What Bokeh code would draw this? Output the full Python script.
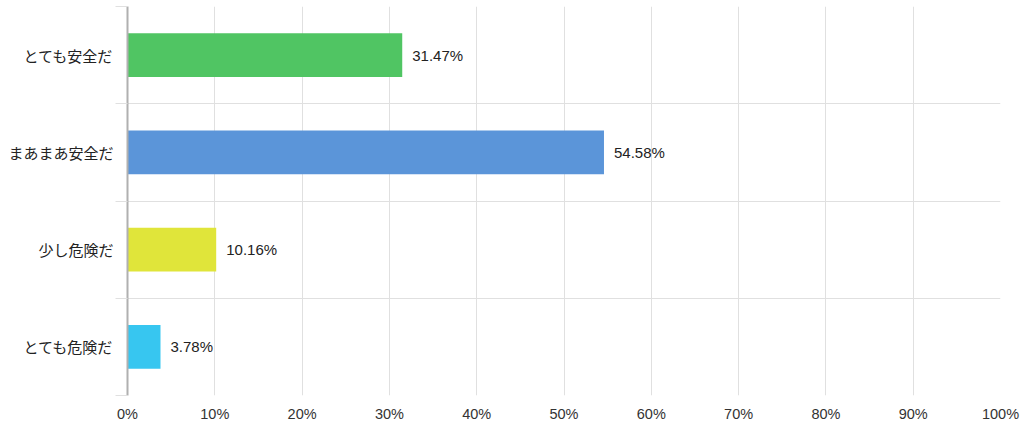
from bokeh.plotting import figure
from bokeh.models import ColumnDataSource, FixedTicker, Range1d
from bokeh.core.properties import value
from bokeh.embed import file_html
from bokeh.resources import INLINE

categories = ["とても安全だ", "まあまあ安全だ", "少し危険だ", "とても危険だ"]
percentages = [31.47, 54.58, 10.16, 3.78]
colors = ["#50c563", "#5b95d9", "#e0e53a", "#37c6f0"]
x_ticks = [0, 10, 20, 30, 40, 50, 60, 70, 80, 90, 100]

n = len(categories)
centers = [n - i - 0.5 for i in range(n)]
src = ColumnDataSource(dict(
    y=centers, v=percentages, c=colors,
    lab=[f"{v:.2f}%" for v in percentages],
))

p = figure(width=1024, height=429, output_backend="svg", toolbar_location=None,
           x_range=Range1d(0, 100), y_range=Range1d(0, n),
           min_border_left=127, min_border_right=24, min_border_top=6, min_border_bottom=34)
p.outline_line_color = None
p.background_fill_color = "white"

p.hbar(y="y", right="v", left=0, height=0.45, fill_color="c", line_color=None, source=src)
p.text(x="v", y="y", text="lab", x_offset=10, text_baseline="middle", text_align="left",
       text_font=value("Liberation Sans"), text_font_size="15px", text_color="#222222", source=src)

# x axis
p.xaxis.ticker = FixedTicker(ticks=x_ticks)
p.xaxis.major_label_overrides = {t: f"{t}%" for t in x_ticks}
p.xaxis.axis_line_color = None
p.xaxis.major_tick_line_color = None
p.xaxis.minor_tick_line_color = None
p.xaxis.major_tick_out = 0
p.xaxis.major_tick_in = 0
p.xaxis.major_label_standoff = 10
p.xaxis.major_label_text_font = "Liberation Sans"
p.xaxis.major_label_text_font_size = "14.5px"
p.xaxis.major_label_text_color = "#333333"

# y axis
p.yaxis.ticker = FixedTicker(ticks=centers, minor_ticks=list(range(n + 1)))
p.yaxis.major_label_overrides = {c: cat for c, cat in zip(centers, categories)}
p.yaxis.axis_line_color = "#b0b0b0"
p.yaxis.axis_line_width = 2
p.yaxis.major_tick_line_color = None
p.yaxis.major_tick_out = 0
p.yaxis.major_tick_in = 0
p.yaxis.minor_tick_out = 12
p.yaxis.minor_tick_in = 0
p.yaxis.minor_tick_line_color = "#e0e0e0"
p.yaxis.major_label_standoff = 2
p.yaxis.major_label_text_font = "Noto Sans CJK JP"
p.yaxis.major_label_text_font_size = "15px"
p.yaxis.major_label_text_color = "#222222"

p.xgrid.ticker = FixedTicker(ticks=x_ticks)
p.xgrid.grid_line_color = "#e0e0e0"
p.ygrid.ticker = FixedTicker(ticks=list(range(n + 1)))
p.ygrid.grid_line_color = "#e0e0e0"

open("out.html", "w").write(file_html(p, INLINE))
